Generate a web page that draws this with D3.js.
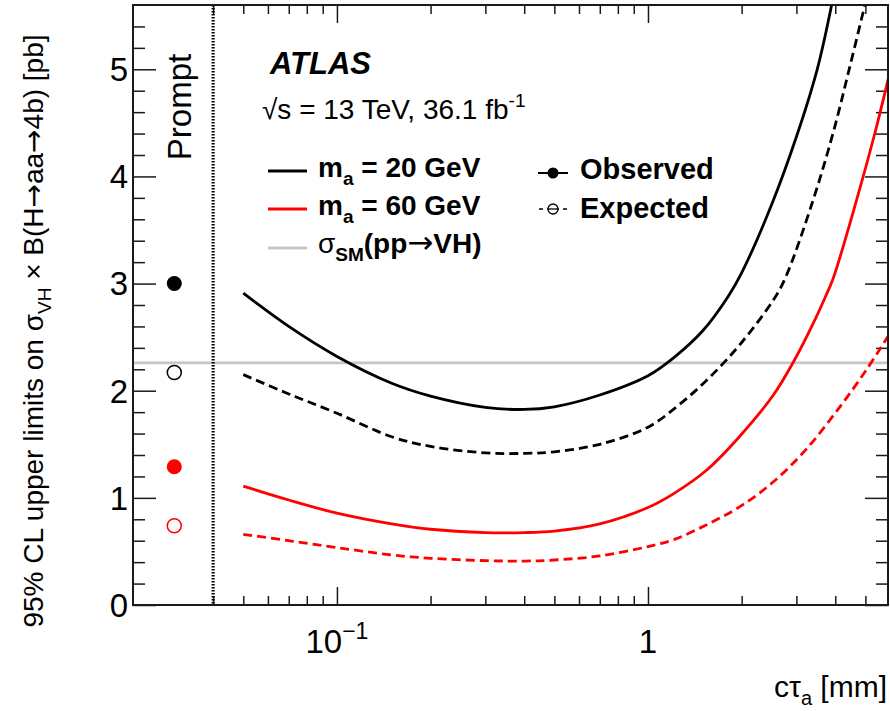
<!DOCTYPE html>
<html>
<head>
<meta charset="utf-8">
<script src="https://cdn.jsdelivr.net/npm/d3@7"></script>
<style>
  html, body { margin: 0; padding: 0; background: #fff; }
  svg { display: block; font-family: "Liberation Sans", Arial, Helvetica, sans-serif; }
  .arrow { font-family: "DejaVu Sans", sans-serif; font-weight: normal; }
</style>
</head>
<body>
<svg id="chart" width="890" height="711"></svg>
<script>
// c*tau values [mm] and 95% CL limits [pb] for each curve
const ctauObs20 = [0.05, 0.07, 0.1, 0.15, 0.2, 0.3, 0.4, 0.5, 0.7, 1.0, 1.2, 1.5, 1.81, 2.0, 2.5, 3.0, 3.5, 3.9];
const limObs20  = [2.91, 2.60, 2.32, 2.07, 1.95, 1.845, 1.825, 1.85, 1.96, 2.14, 2.30, 2.56, 2.88, 3.10, 3.74, 4.37, 5.0, 5.61];

const ctauExp20 = [0.05, 0.07, 0.1, 0.15, 0.2, 0.3, 0.4, 0.5, 0.7, 1.0, 1.26, 1.585, 2.0, 2.56, 2.79, 3.40, 3.94, 4.46, 4.99];
const limExp20  = [2.15, 1.97, 1.79, 1.57, 1.48, 1.42, 1.415, 1.43, 1.50, 1.66, 1.87, 2.13, 2.45, 2.87, 3.08, 3.785, 4.41, 5.03, 5.61];

const ctauObs60 = [0.05, 0.07, 0.1, 0.15, 0.2, 0.3, 0.4, 0.5, 0.7, 1.0, 1.21, 1.545, 1.98, 2.53, 2.95, 3.40, 3.71, 3.94, 4.69, 5.37, 5.92];
const limObs60  = [1.11, 0.98, 0.857, 0.757, 0.707, 0.676, 0.676, 0.69, 0.757, 0.91, 1.04, 1.26, 1.58, 1.96, 2.28, 2.63, 2.87, 3.05, 3.785, 4.41, 4.91];

const ctauExp60 = [0.05, 0.07, 0.1, 0.15, 0.2, 0.3, 0.4, 0.5, 0.7, 1.0, 1.21, 1.545, 1.98, 2.53, 3.24, 4.14, 5.05, 5.92];
const limExp60  = [0.66, 0.60, 0.536, 0.467, 0.436, 0.414, 0.41, 0.42, 0.458, 0.545, 0.61, 0.75, 0.92, 1.15, 1.46, 1.85, 2.20, 2.51];

// Prompt-decay results, drawn at a fixed c*tau left of the divider
const promptCtau = 0.03;
const promptObs20 = 3.0, promptExp20 = 2.17, promptObs60 = 1.29, promptExp60 = 0.74;
const promptDivider = 0.04;

// Standard Model VH cross section [pb]
const sigmaSM = 2.26;

// Axis ticks
const xMajorTicks = [0.1, 1];
const xMinorTicks = [0.04, 0.05, 0.06, 0.07, 0.08, 0.09, 0.2, 0.3, 0.4, 0.5, 0.6, 0.7, 0.8, 0.9, 2, 3, 4, 5];
const xTickLabels = [{ v: 0.1, base: "10", exp: "\u22121" }, { v: 1, base: "1", exp: "" }];
const yMajorTicks = [0, 1, 2, 3, 4, 5];
const yMinorTicks = [0.2, 0.4, 0.6, 0.8, 1.2, 1.4, 1.6, 1.8, 2.2, 2.4, 2.6, 2.8, 3.2, 3.4, 3.6, 3.8, 4.2, 4.4, 4.6, 4.8, 5.2, 5.4];

const svg = d3.select("#chart");
const L = 133, R = 888, T = 5, B = 605;

const x = d3.scaleLog().domain([0.0221, 5.91]).range([L, R]);
const y = d3.scaleLinear().domain([0, 5.6]).range([B, T]);

svg.append("defs").append("clipPath").attr("id", "plotClip")
  .append("rect").attr("x", L).attr("y", T).attr("width", R - L).attr("height", B - T);

const frameColor = "#1a1a1a";

// ---- axes with inward ticks on all four sides ----
function styleAxis(g) {
  g.select(".domain").remove();
  g.selectAll(".tick line").attr("stroke", frameColor).attr("stroke-width", 1.5);
  g.selectAll(".tick text").remove();
}
const axes = svg.append("g");
axes.append("g").attr("transform", `translate(0,${B})`)
  .call(d3.axisBottom(x).tickValues(xMajorTicks).tickSize(-18)).call(styleAxis);
axes.append("g").attr("transform", `translate(0,${B})`)
  .call(d3.axisBottom(x).tickValues(xMinorTicks).tickSize(-9)).call(styleAxis);
axes.append("g").attr("transform", `translate(0,${T})`)
  .call(d3.axisTop(x).tickValues(xMajorTicks).tickSize(-18)).call(styleAxis);
axes.append("g").attr("transform", `translate(0,${T})`)
  .call(d3.axisTop(x).tickValues(xMinorTicks).tickSize(-9)).call(styleAxis);
axes.append("g").attr("transform", `translate(${L},0)`)
  .call(d3.axisLeft(y).tickValues(yMajorTicks).tickSize(-23)).call(styleAxis);
axes.append("g").attr("transform", `translate(${L},0)`)
  .call(d3.axisLeft(y).tickValues(yMinorTicks).tickSize(-12)).call(styleAxis);
axes.append("g").attr("transform", `translate(${R},0)`)
  .call(d3.axisRight(y).tickValues(yMajorTicks).tickSize(-23)).call(styleAxis);
axes.append("g").attr("transform", `translate(${R},0)`)
  .call(d3.axisRight(y).tickValues(yMinorTicks).tickSize(-12)).call(styleAxis);

// tick labels
svg.append("g").selectAll("text").data(yMajorTicks).join("text")
  .attr("x", L - 5).attr("y", d => y(d)).attr("dy", "0.36em")
  .attr("text-anchor", "end").attr("font-size", 33).attr("fill", "#000")
  .text(d => d);

const xl = svg.append("g").selectAll("text").data(xTickLabels).join("text")
  .attr("x", d => x(d.v)).attr("y", 653)
  .attr("text-anchor", "middle").attr("font-size", 33).attr("fill", "#000");
xl.append("tspan").text(d => d.base);
xl.filter(d => d.exp).append("tspan").attr("dy", -14).attr("font-size", 23).text(d => d.exp);

// ---- reference lines ----
svg.append("line")
  .attr("x1", L).attr("x2", R).attr("y1", y(sigmaSM)).attr("y2", y(sigmaSM))
  .attr("stroke", "#c6c6c6").attr("stroke-width", 2.7);

svg.append("line")
  .attr("x1", x(promptDivider)).attr("x2", x(promptDivider)).attr("y1", T).attr("y2", B)
  .attr("stroke", "#000").attr("stroke-width", 3.2).attr("stroke-dasharray", "1.6,1.4");

// ---- limit curves ----
const line = d3.line().x(d => x(d[0])).y(d => y(d[1])).curve(d3.curveCatmullRom.alpha(0.5));
const curves = [
  { c: ctauExp60, v: limExp60, color: "#ff0000", dash: "9,5" },
  { c: ctauObs60, v: limObs60, color: "#ff0000", dash: null },
  { c: ctauExp20, v: limExp20, color: "#000000", dash: "9,5" },
  { c: ctauObs20, v: limObs20, color: "#000000", dash: null }
];
const cg = svg.append("g").attr("clip-path", "url(#plotClip)");
curves.forEach(s => {
  cg.append("path")
    .datum(d3.zip(s.c, s.v))
    .attr("d", line)
    .attr("fill", "none")
    .attr("stroke", s.color)
    .attr("stroke-width", 2.8)
    .attr("stroke-dasharray", s.dash);
});

// ---- prompt points ----
const promptPts = [
  { v: promptObs20, color: "#000", filled: true },
  { v: promptExp20, color: "#000", filled: false },
  { v: promptObs60, color: "#ff0000", filled: true },
  { v: promptExp60, color: "#ff0000", filled: false }
];
svg.append("g").selectAll("circle").data(promptPts).join("circle")
  .attr("cx", x(promptCtau)).attr("cy", d => y(d.v)).attr("r", d => d.filled ? 7.5 : 7)
  .attr("fill", d => d.filled ? d.color : "none")
  .attr("stroke", d => d.color).attr("stroke-width", d => d.filled ? 0 : 1.5);

// ---- frame ----
svg.append("rect").attr("x", L).attr("y", T).attr("width", R - L).attr("height", B - T)
  .attr("fill", "none").attr("stroke", frameColor).attr("stroke-width", 2);

// ---- "Prompt" label ----
svg.append("text")
  .attr("transform", `translate(191,107) rotate(-90)`)
  .attr("text-anchor", "middle").attr("font-size", 33).attr("fill", "#000")
  .text("Prompt");

// ---- ATLAS label ----
svg.append("text").attr("x", 270).attr("y", 74)
  .attr("font-size", 31).attr("font-weight", "bold").attr("font-style", "italic")
  .attr("fill", "#000").text("ATLAS");

const en = svg.append("text").attr("x", 262).attr("y", 119).attr("font-size", 28).attr("fill", "#000");
en.append("tspan").text("\u221As = 13 TeV, 36.1 fb");
en.append("tspan").attr("dy", -12).attr("font-size", 19).text("-1");

// ---- legend ----
const leg = svg.append("g");
function legText(yb, parts) {
  const t = leg.append("text").attr("x", 318).attr("y", yb).attr("font-size", 28)
    .attr("font-weight", "bold").attr("fill", "#000");
  parts.forEach(p => {
    const ts = t.append("tspan").text(p.t);
    if (p.sub) ts.attr("dy", 8).attr("font-size", 19);
    if (p.up) ts.attr("dy", -8);
    if (p.normal) ts.attr("font-weight", "normal");
    if (p.arrow) ts.attr("class", "arrow").attr("font-size", 31);
  });
}
leg.append("line").attr("x1", 268).attr("x2", 307).attr("y1", 171).attr("y2", 171)
  .attr("stroke", "#000").attr("stroke-width", 2.8);
legText(177, [{ t: "m" }, { t: "a", sub: true }, { t: " = 20 GeV", up: true }]);
leg.append("line").attr("x1", 268).attr("x2", 307).attr("y1", 209).attr("y2", 209)
  .attr("stroke", "#ff0000").attr("stroke-width", 2.8);
legText(215, [{ t: "m" }, { t: "a", sub: true }, { t: " = 60 GeV", up: true }]);
leg.append("line").attr("x1", 268).attr("x2", 307).attr("y1", 248).attr("y2", 248)
  .attr("stroke", "#c6c6c6").attr("stroke-width", 2.8);
legText(253, [{ t: "\u03C3", normal: true }, { t: "SM", sub: true }, { t: "(pp", up: true }, { t: "\u2192", arrow: true }, { t: "VH)" }]);

// observed / expected style keys
leg.append("line").attr("x1", 538).attr("x2", 568).attr("y1", 173).attr("y2", 173)
  .attr("stroke", "#000").attr("stroke-width", 2);
leg.append("circle").attr("cx", 553).attr("cy", 173).attr("r", 5.5).attr("fill", "#000");
leg.append("text").attr("x", 580).attr("y", 179).attr("font-size", 29).attr("font-weight", "bold")
  .attr("fill", "#000").text("Observed");

leg.append("line").attr("x1", 539).attr("x2", 567).attr("y1", 209).attr("y2", 209)
  .attr("stroke", "#000").attr("stroke-width", 1.6).attr("stroke-dasharray", "4,4");
leg.append("circle").attr("cx", 553).attr("cy", 209).attr("r", 5).attr("fill", "#fff")
  .attr("stroke", "#000").attr("stroke-width", 1.3);
leg.append("line").attr("x1", 548).attr("x2", 558).attr("y1", 209).attr("y2", 209)
  .attr("stroke", "#000").attr("stroke-width", 1.3);
leg.append("text").attr("x", 580).attr("y", 218).attr("font-size", 29).attr("font-weight", "bold")
  .attr("fill", "#000").text("Expected");

// ---- axis titles ----
const xt = svg.append("text").attr("x", 887).attr("y", 697).attr("text-anchor", "end")
  .attr("font-size", 30).attr("fill", "#000");
xt.append("tspan").text("c\u03C4");
xt.append("tspan").attr("dy", 8).attr("font-size", 20).text("a");
xt.append("tspan").attr("dy", -8).text(" [mm]");

const yt = svg.append("text")
  .attr("transform", "translate(43,331) rotate(-90)")
  .attr("text-anchor", "middle").attr("font-size", 28).attr("fill", "#000");
yt.append("tspan").text("95% CL upper limits on \u03C3");
yt.append("tspan").attr("dy", 8).attr("font-size", 19).text("VH");
yt.append("tspan").attr("dy", -8).text(" \u00D7 B(H");
yt.append("tspan").attr("class", "arrow").attr("font-size", 28).text("\u2192");
yt.append("tspan").text("aa");
yt.append("tspan").attr("class", "arrow").attr("font-size", 28).text("\u2192");
yt.append("tspan").text("4b) [pb]");
</script>
</body>
</html>
